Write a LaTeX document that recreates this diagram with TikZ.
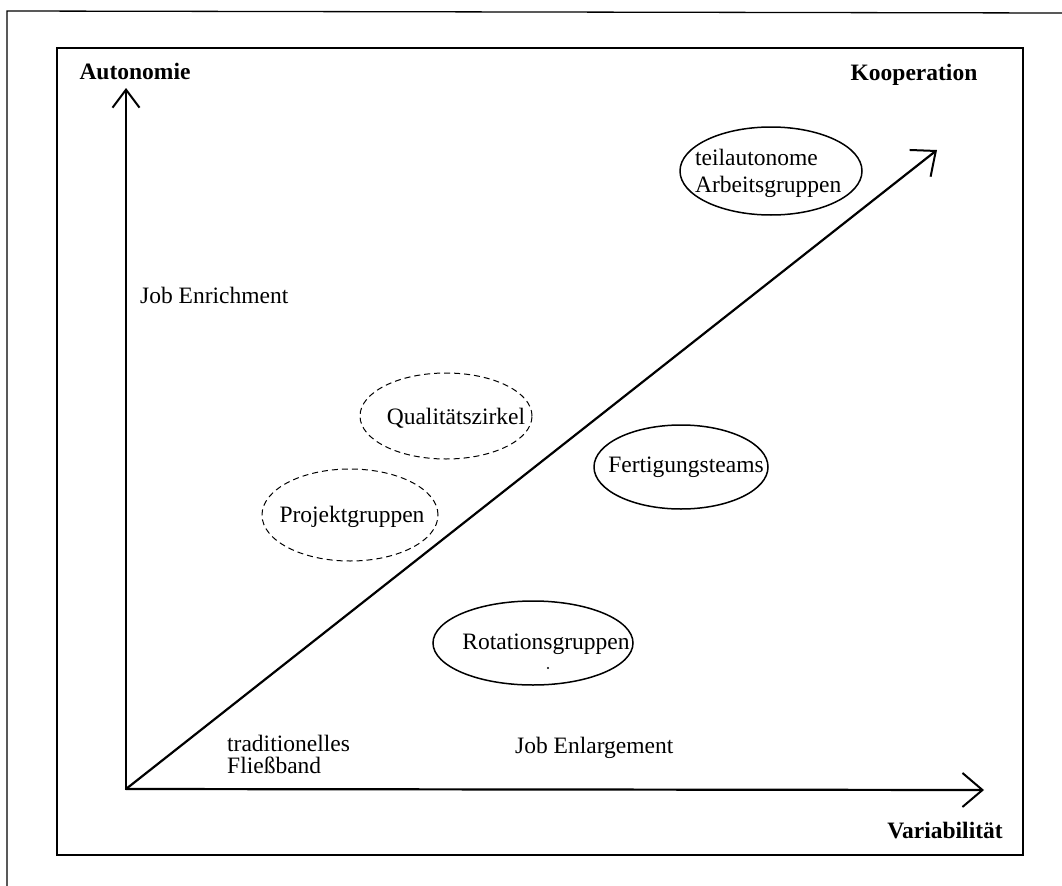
\documentclass[tikz,border=0pt]{standalone}
\usepackage{fontspec}
\setmainfont{Liberation Serif}
\usetikzlibrary{arrows.meta,shapes.geometric}
\begin{document}
\begin{tikzpicture}[x=1bp,y=-1bp,
  frameline/.style={line width=1.3bp},
  axisline/.style={line width=2.2bp, line cap=round},
  barbtip/.style={-{Straight Barb[length=20bp,width=34bp,line width=2bp]}},
  smallbarb/.style={-{Straight Barb[length=18bp,width=27bp,line width=2bp]}},
  oval/.style={draw, ellipse, line width=1.5bp, inner sep=0pt},
  dashoval/.style={draw, ellipse, line width=1bp, dash pattern=on 6bp off 4bp, inner sep=0pt},
  lbl/.style={font=\fontsize{23.5bp}{27bp}\selectfont, inner sep=0pt},
  axlbl/.style={font=\fontsize{23.5bp}{27bp}\selectfont\bfseries, inner sep=0pt}]
\useasboundingbox (0,0) rectangle (1062,886);
% frames
\coordinate (ob) at (7,886);
\coordinate (otl) at (7,11);
\coordinate (otr) at (1062,13);
\draw[frameline] (ob) -- (otl) -- (otr);
\coordinate (itl) at (57,48);
\coordinate (ibr) at (1023,855);
\draw[frameline] (itl) rectangle (ibr);
% axes
\coordinate (O) at (126,789);
\coordinate (ytip) at (126,88);
\coordinate (xtip) at (984,790);
\coordinate (dtip) at (937,150);
\draw[axisline, smallbarb] (O) -- (ytip);
\draw[axisline, barbtip] (O) -- (xtip);
\draw[axisline, barbtip] (O) -- (dtip);
% axis labels
\node[axlbl] (auto) at (135,71) {Autonomie};
\node[axlbl] (koop) at (914,75) {Kooperation};
\node[axlbl] (vari) at (945,831) {Variabilität};
% texts
\node[lbl, anchor=base west] (enrich) at (140,303) {Job Enrichment};
\node[lbl, anchor=base west] (trad) at (227,751) {traditionelles};
\node[lbl, anchor=base west] (fliess) at (227,773) {Fließband};
\node[lbl, anchor=base west] (enlarge) at (515,753) {Job Enlargement};
% ellipses
\node[oval, minimum width=182bp, minimum height=88bp] (teil) at (771,171) {};
\node[lbl, anchor=base west] (teil1) at (695,165) {teilautonome};
\node[lbl, anchor=base west] (teil2) at (695,192) {Arbeitsgruppen};
\node[dashoval, minimum width=172bp, minimum height=86bp] (qual) at (446,416) {};
\node[lbl] (qualt) at (456,418) {Qualitätszirkel};
\node[dashoval, minimum width=176bp, minimum height=92bp] (proj) at (350,515) {};
\node[lbl] (projt) at (352,517) {Projektgruppen};
\node[oval, minimum width=174bp, minimum height=84bp] (fert) at (681,467) {};
\node[lbl] (fertt) at (686,467) {Fertigungsteams};
\node[oval, minimum width=200bp, minimum height=84bp] (rot) at (533,643) {};
\node[lbl] (rott) at (546,644) {Rotationsgruppen};
\fill (548,668) circle (1.2bp);
\end{tikzpicture}
\end{document}
